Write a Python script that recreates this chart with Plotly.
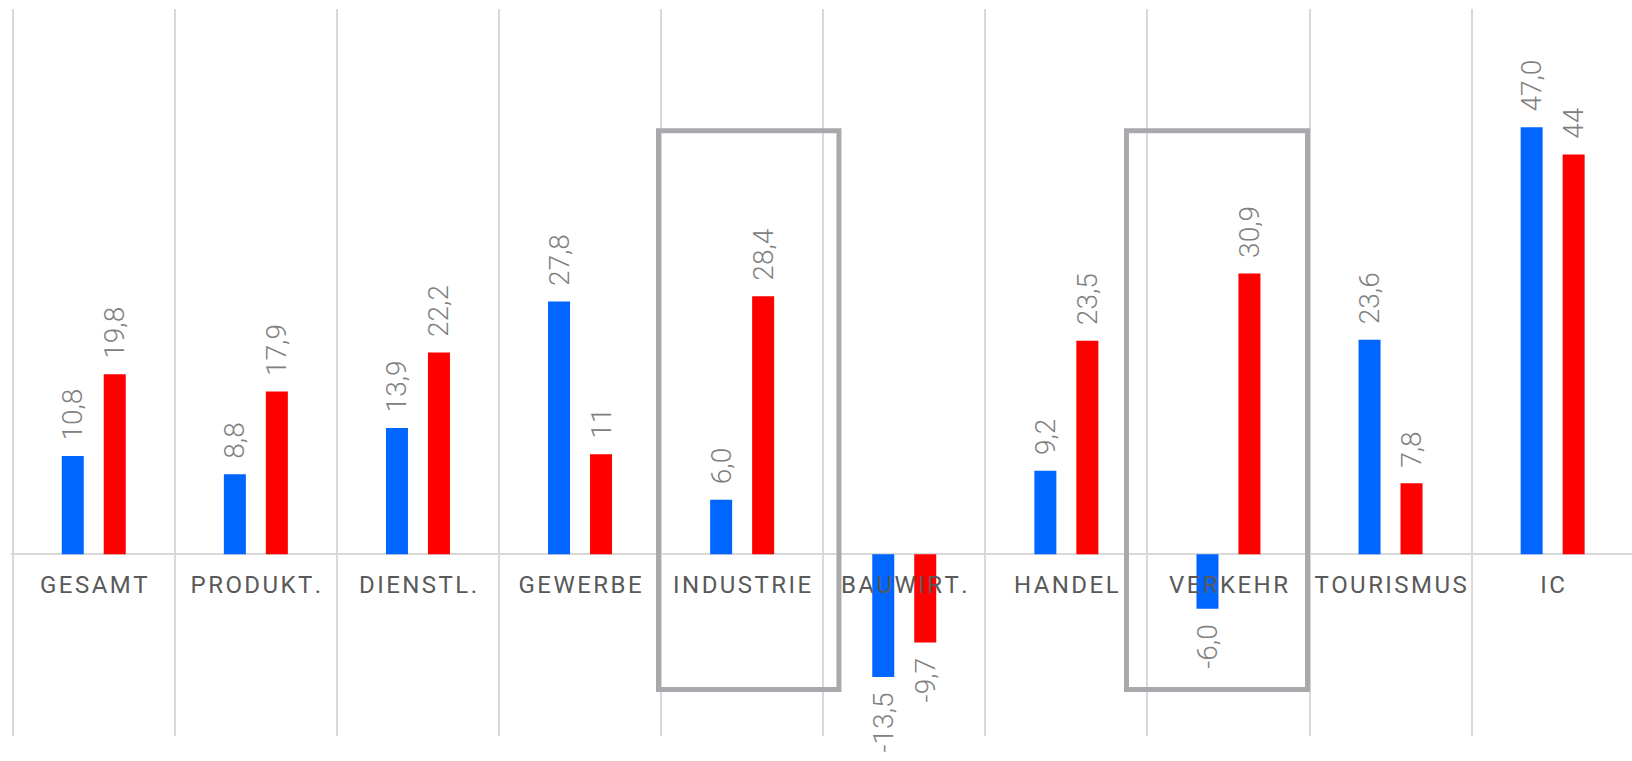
import plotly.graph_objects as go

# Sector categories and the two series of percentage values
categories = ["GESAMT", "PRODUKT.", "DIENSTL.", "GEWERBE", "INDUSTRIE",
              "BAUWIRT.", "HANDEL", "VERKEHR", "TOURISMUS", "IC"]
blue_values = [10.8, 8.8, 13.9, 27.8, 6.0, -13.5, 9.2, -6.0, 23.6, 47.0]
red_values = [19.8, 17.9, 22.2, 11, 28.4, -9.7, 23.5, 30.9, 7.8, 44]

BLUE = "#0066FF"
RED = "#FF0000"
GRID = "#D9D9D9"
BOX = "#A7A9AC"
PAD = "\u00a0\u2009"


def fmt(v):
    # integers are shown as is, floats with one decimal and a comma
    s = str(v) if isinstance(v, int) else f"{v:.1f}".replace(".", ",")
    # pad on the side facing the bar so the rotated label sits clear of it
    return PAD + s if v >= 0 else s + PAD


def spaced(label):
    # slightly tracked capitals for the category labels
    return "\u200a".join(label)


label_font = dict(family="Roboto", size=28, color="#808080", weight=300)

fig = go.Figure()
for vals, color in ((blue_values, BLUE), (red_values, RED)):
    fig.add_trace(go.Bar(
        x=categories, y=vals,
        marker=dict(color=color, line=dict(width=0)),
        text=[fmt(v) for v in vals],
        textposition="outside",
        textangle=-90,
        textfont=label_font,
        constraintext="none",
        cliponaxis=False,
        hoverinfo="skip",
    ))

# Highlight frames around two sectors
for x0, x1 in ((3.484, 4.597), (6.371, 7.488)):
    fig.add_shape(type="rect", xref="x", yref="y",
                  x0=x0, x1=x1, y0=-14.88, y1=46.6,
                  line=dict(color=BOX, width=5), fillcolor="rgba(0,0,0,0)",
                  layer="above")

fig.update_layout(
    width=1632, height=761,
    margin=dict(l=11, r=0, t=9, b=25),
    paper_bgcolor="white", plot_bgcolor="white",
    barmode="group", bargap=0.482, bargroupgap=0.476,
    showlegend=False,
    font=dict(family="Roboto"),
)
fig.update_xaxes(
    type="category",
    range=[-0.5105, 9.4895],
    tickmode="array",
    tickvals=categories,
    ticktext=[spaced(c) for c in categories],
    tickson="boundaries",
    ticks="",
    showgrid=True, gridcolor=GRID, gridwidth=1.5,
    showline=False, zeroline=False,
    anchor="free", position=0.25,
    tickfont=dict(family="Roboto", size=24, color="#595959"),
    ticklabelstandoff=14,
)
fig.update_yaxes(
    range=[-20, 60],
    showgrid=False, showticklabels=False, ticks="",
    zeroline=True, zerolinecolor=GRID, zerolinewidth=2,
    showline=False,
)

fig.write_html("out.html")
